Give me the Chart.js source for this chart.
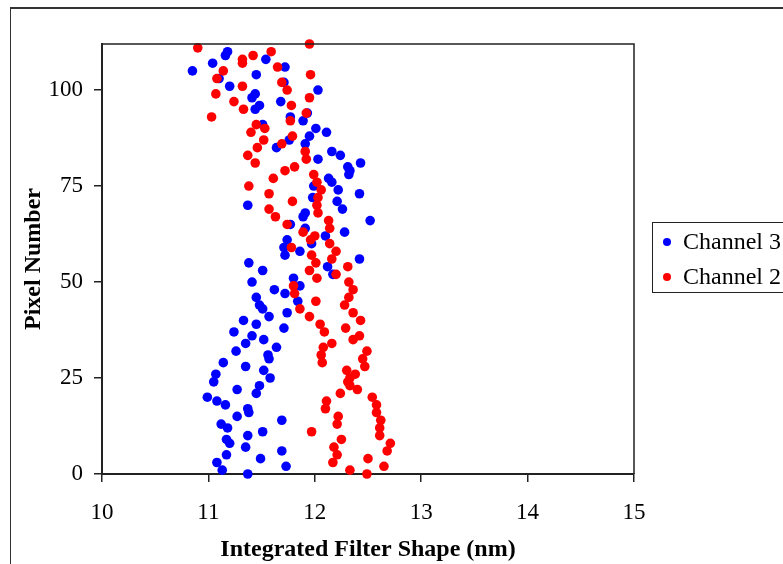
<!DOCTYPE html>
<html>
<head>
<meta charset="utf-8">
<script src="https://cdn.jsdelivr.net/npm/chart.js@4"></script>
<style>
  body { margin: 0; background: #fff; }
  #frame {
    position: absolute; left: 10px; top: 7px; width: 800px; height: 600px;
    border-top: 2px solid #333; border-left: 1px solid #333;
  }
  #wrap { position: absolute; left: 0; top: 0; width: 783px; height: 564px; overflow: hidden; }
  canvas { position: absolute; left: 0; top: 0; }
</style>
</head>
<body>
<div id="wrap">
  <div id="frame"></div>
  <canvas id="grafico" width="783" height="564"></canvas>
</div>
<script>
// integrated filter shape (nm) per pixel number, pixel 0 first
const channel3 = [
  11.37, 11.13, 11.73, 11.08, 11.49, 11.17, 11.69, 11.35, 11.20, 11.17,
  11.37, 11.51, 11.18, 11.12, 11.69, 11.27, 11.38, 11.37, 11.16, 11.08,
  10.99, 11.45, 11.27, 11.48, 11.05, 11.58, 11.07, 11.52, 11.35, 11.14,
  11.57, 11.56, 11.26, 11.64, 11.35, 11.52, 11.41, 11.24, 11.71, 11.45,
  11.33, 11.57, 11.74, 11.51, 11.48, 11.84, 11.45, 11.72, 11.62, 11.86,
  11.41, 11.80, 12.17, 11.51, 12.12, 11.38, 12.42, 11.72, 11.86, 11.71,
  11.97, 11.74, 12.10, 12.28, 11.91, 11.77, 12.52, 11.89, 11.91, 12.26,
  11.37, 12.21, 11.98, 12.42, 12.22, 11.99, 12.16, 12.13, 12.32, 12.33,
  12.31, 12.43, 12.03, 12.24, 12.16, 11.64, 11.91, 11.76, 11.95, 12.11,
  12.01, 11.51, 11.89, 11.77, 11.93, 11.44, 11.48, 11.68, 11.41, 11.44,
  12.03, 11.20, 11.71, 11.10, 11.45, 10.85, 11.72, 11.04, 11.54, 11.16,
  11.18
];
const channel2 = [
  12.49, 12.33, 12.65, 12.17, 12.50, 12.21, 12.68, 12.18, 12.71, 12.25,
  12.61, 11.97, 12.61, 12.21, 12.62, 12.22, 12.58, 12.10, 12.58, 12.11,
  12.54, 12.24, 12.40, 12.33, 12.31, 12.33, 12.38, 12.30, 12.47, 12.07,
  12.45, 12.06, 12.49, 12.08, 12.16, 12.36, 12.42, 12.09, 12.29, 12.05,
  12.43, 11.95, 12.36, 11.86, 12.28, 12.01, 12.32, 11.81, 12.36, 11.80,
  12.32, 12.02, 12.20, 11.95, 12.31, 12.01, 12.16, 11.97, 12.20, 11.78,
  12.14, 11.96, 12.00, 11.89, 12.14, 11.74, 12.13, 11.63, 12.03, 11.57,
  12.02, 11.79, 12.03, 11.57, 12.06, 11.38, 12.02, 11.61, 11.99, 11.72,
  11.81, 11.44, 11.92, 11.37, 11.91, 11.46, 11.69, 11.52, 11.79, 11.40,
  11.53, 11.45, 11.77, 11.03, 11.92, 11.33, 11.78, 11.24, 11.95, 11.07,
  11.74, 11.32, 11.69, 11.08, 11.96, 11.14, 11.65, 11.32, 11.32, 11.42,
  11.59, 10.90, 11.95
];
const seriesNames = ["Channel 3", "Channel 2"];
const xTicks = [10, 11, 12, 13, 14, 15];
const yTicks = [0, 25, 50, 75, 100];
const yMax = 112;

const serif = "'Liberation Serif', 'Times New Roman', serif";

function toPoints(values) {
  return values.map((v, i) => ({ x: v, y: i }));
}

const legendBox = {
  id: "legendBox",
  afterDraw(chart) {
    const ctx = chart.ctx;
    ctx.save();
    ctx.strokeStyle = "#222";
    ctx.lineWidth = 1;
    ctx.strokeRect(652.5, 222.5, 200, 70);
    ctx.font = "24px " + serif;
    ctx.textBaseline = "middle";
    chart.data.datasets.forEach((ds, i) => {
      const y = 242 + i * 35;
      ctx.beginPath();
      ctx.arc(667, y, 4, 0, Math.PI * 2);
      ctx.fillStyle = ds.backgroundColor;
      ctx.fill();
      ctx.fillStyle = "#000";
      ctx.fillText(ds.label, 683, y + 1);
    });
    ctx.restore();
  }
};

const plotBorder = {
  id: "plotBorder",
  afterDatasetsDraw(chart) {
    const a = chart.chartArea;
    const ctx = chart.ctx;
    ctx.save();
    ctx.strokeStyle = "#222";
    ctx.lineWidth = 1.5;
    ctx.beginPath();
    ctx.moveTo(a.left, a.top);
    ctx.lineTo(a.right, a.top);
    ctx.lineTo(a.right, a.bottom);
    ctx.stroke();
    ctx.restore();
  }
};

new Chart(document.getElementById("grafico"), {
  type: "scatter",
  data: {
    datasets: [
      {
        label: seriesNames[0],
        data: toPoints(channel3),
        backgroundColor: "#0000ff",
        borderWidth: 0,
        pointRadius: 4.8,
        order: 1,
        clip: false,
      },
      {
        label: seriesNames[1],
        data: toPoints(channel2),
        backgroundColor: "#ff0000",
        borderWidth: 0,
        pointRadius: 4.8,
        order: 0,
        clip: false,
      },
    ],
  },
  options: {
    responsive: false,
    animation: false,
    layout: { padding: { left: 0, top: 44, right: 149, bottom: 0 } },
    plugins: {
      legend: { display: false },
      tooltip: { enabled: false },
    },
    scales: {
      x: {
        type: "linear",
        min: xTicks[0],
        max: xTicks[xTicks.length - 1],
        afterFit: (s) => { s.height = 90; },
        afterBuildTicks: (s) => { s.ticks = xTicks.map((v) => ({ value: v })); },
        ticks: { color: "#000", padding: 17, font: { family: serif, size: 23 } },
        grid: { drawOnChartArea: false, tickLength: 8, color: "#222", lineWidth: 1.5 },
        border: { color: "#222", width: 2 },
        title: {
          display: true,
          text: "Integrated Filter Shape (nm)",
          color: "#000",
          font: { family: serif, size: 24, weight: "bold" },
          padding: { top: 0, bottom: 0 },
        },
      },
      y: {
        type: "linear",
        min: 0,
        max: yMax,
        afterFit: (s) => { s.width = 102; },
        afterBuildTicks: (s) => { s.ticks = yTicks.map((v) => ({ value: v })); },
        ticks: { color: "#000", padding: 11, font: { family: serif, size: 23 } },
        grid: { drawOnChartArea: false, tickLength: 8, color: "#222", lineWidth: 1.5 },
        border: { color: "#222", width: 2 },
        title: {
          display: true,
          text: "Pixel Number",
          color: "#000",
          font: { family: serif, size: 24, weight: "bold" },
          padding: { top: 19, bottom: 0 },
        },
      },
    },
  },
  plugins: [plotBorder, legendBox],
});
</script>
</body>
</html>
